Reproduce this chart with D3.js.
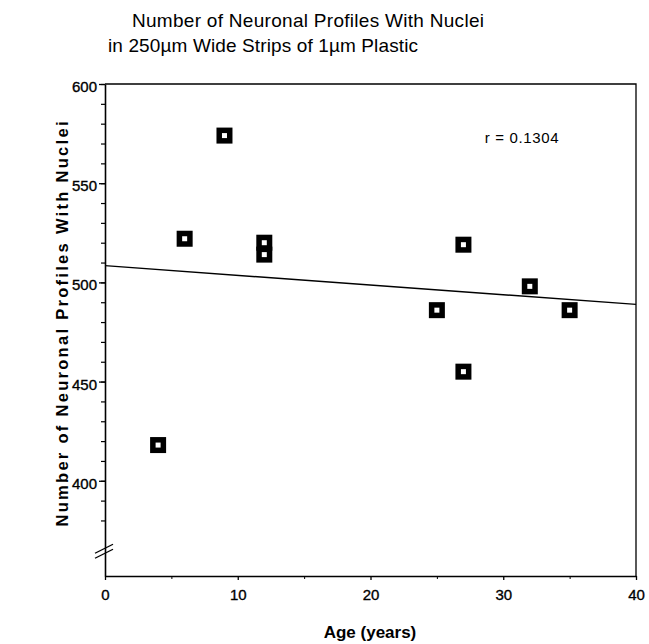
<!DOCTYPE html>
<html lang="en">
<head>
  <meta charset="UTF-8">
  <title>Neuronal Profiles With Nuclei vs Age</title>
  <script src="https://d3js.org/d3.v7.min.js"></script>
  <style>
    body { margin: 0; background: #fff; font-family: "Liberation Sans", Arial, sans-serif; }
    svg text { fill: #000; }
  </style>
</head>
<body>
  <div id="chart"></div>
  <script>
    // data
    const ages = [4, 6, 9, 12, 12, 25, 27, 27, 32, 35];
    const counts = [418, 522, 574, 520, 514, 486, 519, 455, 498, 486];
    const xTicks = [0, 10, 20, 30, 40];
    const yTicks = [400, 450, 500, 550, 600];
    const titleLines = ["Number of Neuronal Profiles With Nuclei", "in 250\u00b5m Wide Strips of 1\u00b5m Plastic"];
    const rLabel = "r = 0.1304";

    const W = 649, H = 644;
    const plot = { left: 105, right: 636, top: 84, bottom: 576 };
    const font = "Liberation Sans, Arial, sans-serif";

    const svg = d3.select("#chart").append("svg")
      .attr("width", W).attr("height", H);

    const x = d3.scaleLinear().domain([0, 40]).range([plot.left, plot.right]);
    const y = d3.scaleLinear().domain([352, 600]).range([plot.bottom, plot.top]);

    // frame: top and right sides
    svg.append("path")
      .attr("d", `M${plot.left},${plot.top}H${plot.right}V${plot.bottom}`)
      .attr("fill", "none").attr("stroke", "#000").attr("stroke-width", 1.3);

    // y axis (minor ticks every 10, labels at 50)
    const yMinor = d3.range(380, 601, 10);
    svg.append("g")
      .attr("transform", `translate(${plot.left},0)`)
      .call(d3.axisLeft(y).tickValues(yMinor).tickSize(4).tickFormat(""))
      .call(g => g.select(".domain").remove())
      .selectAll("line").attr("stroke-width", 1.2);

    const yAxis = svg.append("g")
      .attr("transform", `translate(${plot.left},0)`)
      .call(d3.axisLeft(y).tickValues(yTicks).tickSize(6).tickPadding(2).tickSizeOuter(0));
    yAxis.select(".domain").attr("stroke-width", 1.6);
    yAxis.selectAll("line").attr("stroke-width", 1.3);
    yAxis.selectAll("text")
      .attr("font-size", 15).attr("font-family", font)
      .attr("stroke", "#000").attr("stroke-width", 0.35)
      .attr("dy", "0.5em");

    // x axis
    svg.append("g")
      .attr("transform", `translate(0,${plot.bottom})`)
      .call(d3.axisBottom(x).tickValues(d3.range(5, 40, 10)).tickSize(3).tickFormat(""))
      .call(g => g.select(".domain").remove());

    const xAxis = svg.append("g")
      .attr("transform", `translate(0,${plot.bottom})`)
      .call(d3.axisBottom(x).tickValues(xTicks).tickSize(4).tickPadding(9).tickSizeOuter(0));
    xAxis.select(".domain").attr("stroke-width", 1.6);
    xAxis.selectAll("line").attr("stroke-width", 1.3);
    xAxis.selectAll("text")
      .attr("font-size", 15).attr("font-family", font)
      .attr("stroke", "#000").attr("stroke-width", 0.35);

    // axis break on the y axis
    const yb = y(366);
    [0, 5].forEach(off => {
      svg.append("line")
        .attr("x1", plot.left - 10).attr("y1", yb + 5 + off)
        .attr("x2", plot.left + 8).attr("y2", yb - 4 + off)
        .attr("stroke", "#000").attr("stroke-width", 1.3);
    });

    // regression line
    const mx = d3.mean(ages), my = d3.mean(counts);
    const slope = d3.sum(ages, (a, i) => (a - mx) * (counts[i] - my)) / d3.sum(ages, a => (a - mx) ** 2);
    const icpt = my - slope * mx;
    svg.append("line")
      .attr("x1", x(0)).attr("y1", y(icpt))
      .attr("x2", x(40)).attr("y2", y(icpt + slope * 40))
      .attr("stroke", "#000").attr("stroke-width", 1.4);

    // points
    const pts = svg.append("g").selectAll("g").data(ages).join("g")
      .attr("transform", (d, i) => `translate(${x(d)},${y(counts[i])})`);
    pts.append("rect").attr("x", -8).attr("y", -8).attr("width", 16).attr("height", 16).attr("fill", "#000");
    pts.append("rect").attr("x", -2.5).attr("y", -2.5).attr("width", 5).attr("height", 5).attr("fill", "#fff");

    // r label
    svg.append("text")
      .attr("x", x(28.6)).attr("y", y(573) + 5)
      .attr("font-size", 15).attr("textLength", 74).text(rLabel);

    // titles
    svg.append("text").attr("x", 132).attr("y", 27)
      .attr("font-size", 19).attr("textLength", 352).text(titleLines[0]);
    svg.append("text").attr("x", 108).attr("y", 52)
      .attr("font-size", 19).attr("textLength", 310).text(titleLines[1]);

    svg.append("text")
      .attr("x", 370).attr("y", 638)
      .attr("text-anchor", "middle").attr("font-size", 17).attr("font-weight", "bold")
      .text("Age (years)");

    svg.append("text")
      .attr("transform", `translate(68,324) rotate(-90)`)
      .attr("text-anchor", "middle").attr("font-size", 16.5).attr("font-weight", "bold")
      .attr("textLength", 405)
      .text("Number of Neuronal Profiles With Nuclei");
  </script>
</body>
</html>
